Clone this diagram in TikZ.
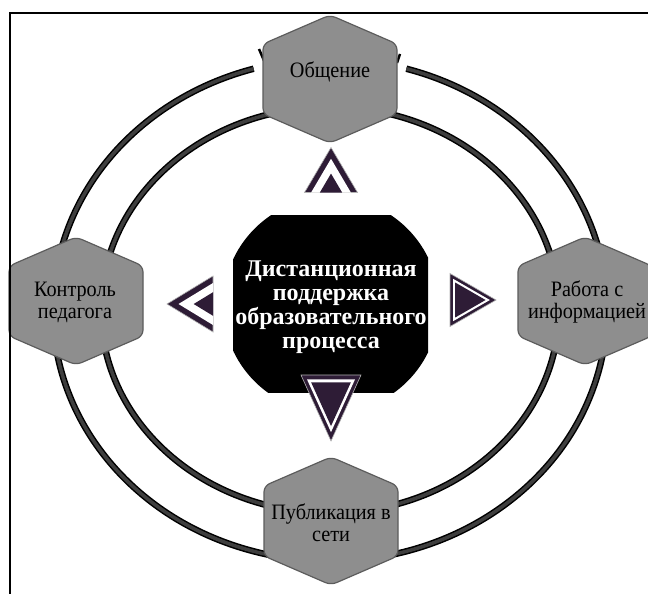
\documentclass[tikz,border=0pt]{standalone}
\usepackage{fontspec}
\setmainfont{Liberation Serif}
\newfontfamily\hexfont{Liberation Serif}[FakeStretch=0.92]
\definecolor{tridark}{RGB}{46,28,54}
\definecolor{hexfill}{RGB}{142,142,142}
\definecolor{hexline}{RGB}{92,92,92}
\definecolor{ringgray}{RGB}{62,62,62}
\tikzset{
  ringline/.style={line width=6.5pt, draw=black},
  ringcore/.style={line width=3.5pt, draw=ringgray},
  hexbox/.style={fill=hexfill, draw=hexline, line width=1.2pt, rounded corners=6pt},
  hexlabel/.style={font=\hexfont\fontsize{22}{22}\selectfont, align=center, text=black, inner sep=0pt},
  centerlabel/.style={font=\bfseries\fontsize{24}{24}\selectfont, align=center, text=white, inner sep=0pt},
  pics/hexa/.style={code={
    \draw[hexbox] (0,-64) -- (67,-35) -- (67,35) -- (0,64) -- (-67,35) -- (-67,-35) -- cycle;}},
  pics/chev/.style 2 args={code={
    \filldraw[fill=tridark, draw=gray!60, line width=0.6pt] (0,-#2) -- (#1,#2) -- (-#1,#2) -- cycle;
    \fill[white] (0,{-0.5*#2}) -- ({0.75*#1},#2) -- ({-0.75*#1},#2) -- cycle;
    \fill[tridark] (0,{0.16*#2}) -- ({0.42*#1},#2) -- ({-0.42*#1},#2) -- cycle;}},
  pics/fulltri/.style 2 args={code={
    \filldraw[fill=tridark, draw=gray!60, line width=0.6pt] (0,-#2) -- (#1,#2) -- (-#1,#2) -- cycle;
    \fill[white] (0,{#2/3-0.80*4*#2/3}) -- ({0.80*#1},{#2/3+0.80*2*#2/3}) -- ({-0.80*#1},{#2/3+0.80*2*#2/3}) -- cycle;
    \fill[tridark] (0,{#2/3-0.66*4*#2/3}) -- ({0.66*#1},{#2/3+0.66*2*#2/3}) -- ({-0.66*#1},{#2/3+0.66*2*#2/3}) -- cycle;}}
}
\begin{document}
\begin{tikzpicture}[x=1pt,y=-1pt]
\fill[white] (0,0) rectangle (648,594);
\useasboundingbox (0,0) rectangle (648,594);
% rings
\draw[ringline] (330,310) ellipse [x radius=229, y radius=203];
\draw[ringcore] (330,310) ellipse [x radius=229, y radius=203];
\draw[ringline] (330,310) ++(-74:277 and 251) arc[start angle=-74, end angle=254, x radius=277, y radius=251];
\draw[ringcore] (330,310) ++(-74:277 and 251) arc[start angle=-74, end angle=254, x radius=277, y radius=251];
% small ticks near top hexagon
\draw[line width=2.5pt, black] (259,49) -- (265,63);
\draw[line width=2.5pt, black] (400,54) -- (397,63);
% hexagons
\pic at (330,79) {hexa};
\pic at (76,301) {hexa};
\pic at (585,301) {hexa};
\pic at (331,521) {hexa};
% centre circle
\begin{scope}
\clip (233,215) rectangle (428,392);
\fill[black] (331,305) circle[radius=108];
\end{scope}
% arrow symbols
\pic at (331,170) {chev={26.5}{22.5}};
\pic[rotate=90] at (190,304) {chev={28}{23}};
\pic[rotate=-90] at (473,300) {fulltri={26.5}{23}};
\pic[rotate=180] at (331,408) {fulltri={30}{33}};
% frame
\draw[line width=2pt, black] (10,594) -- (10,13) -- (648,13);
% labels
\node[centerlabel] (centre) at (331,307) {Дистанционная\\поддержка\\образовательного\\процесса};
\node[hexlabel] (obsh) at (330,72) {Общение};
\node[hexlabel] (kontrol) at (75,302) {Контроль\\педагога};
\node[hexlabel] (rabota) at (587,302) {Работа с\\информацией};
\node[hexlabel] (publ) at (331,523) {Публикация в\\сети};
\end{tikzpicture}
\end{document}
